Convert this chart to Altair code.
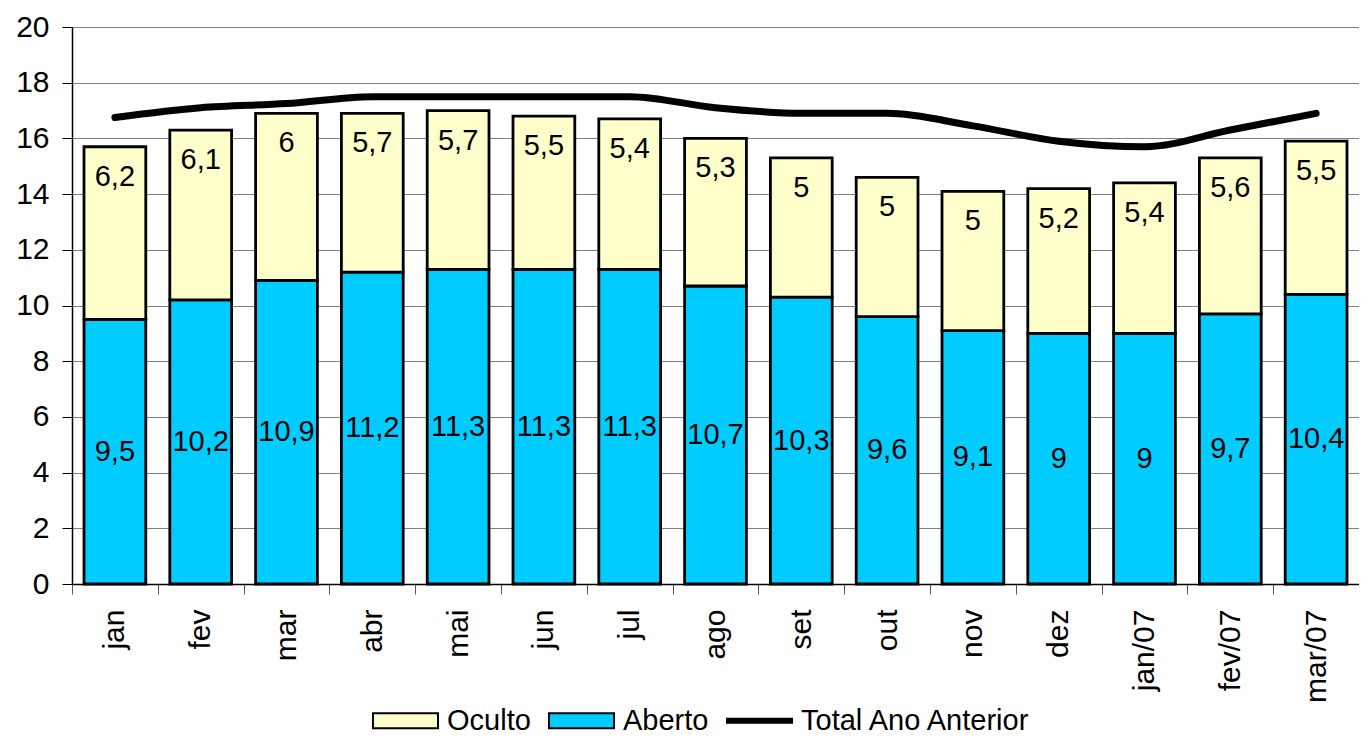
import altair as alt
import pandas as pd

months = ["jan", "fev", "mar", "abr", "mai", "jun", "jul", "ago", "set",
          "out", "nov", "dez", "jan/07", "fev/07", "mar/07"]
aberto = [9.5, 10.2, 10.9, 11.2, 11.3, 11.3, 11.3, 10.7, 10.3, 9.6, 9.1, 9, 9, 9.7, 10.4]
oculto = [6.2, 6.1, 6, 5.7, 5.7, 5.5, 5.4, 5.3, 5, 5, 5, 5.2, 5.4, 5.6, 5.5]
total_ano_anterior = [16.75, 17.1, 17.25, 17.5, 17.5, 17.5, 17.5, 17.1, 16.9,
                      16.9, 16.45, 15.9, 15.7, 16.3, 16.9]
series = ["Oculto", "Aberto", "Total Ano Anterior"]
series_colors = ["#FFFFCC", "#00CCFF", "#000000"]
y_ticks = list(range(0, 21, 2))

FONT = "Liberation Sans"


def fmt(v):
    return f"{v:g}".replace(".", ",")


rows = []
for m, a, o in zip(months, aberto, oculto):
    rows.append(dict(mes=m, serie="Aberto", ini=0.0, fim=a, pos=a / 2, label=fmt(a)))
    rows.append(dict(mes=m, serie="Oculto", ini=a, fim=a + o, pos=a + o, label=fmt(o)))
bars_df = pd.DataFrame(rows)
line_df = pd.DataFrame(dict(mes=months, total=total_ano_anterior))

x_enc = alt.X(
    "mes:N", sort=months, title=None,
    scale=alt.Scale(paddingInner=0, paddingOuter=0),
    axis=alt.Axis(labelAngle=-90, labelAlign="right", labelBaseline="middle",
                  labelFontSize=30, labelColor="black", labelPadding=15,
                  tickBand="extent", tickSize=10, tickColor="#555555", tickWidth=1,
                  domainColor="black", domainWidth=1.5, grid=False, labelFont=FONT),
)
y_scale = alt.Scale(domain=[0, 20], nice=False)
y_axis = alt.Axis(values=y_ticks, title=None, labelFontSize=30, labelColor="black",
                  labelPadding=13, tickSize=10, tickColor="black", domainColor="black",
                  domainWidth=1.5, gridColor="#808080", gridWidth=1.2, labelFont=FONT)

legend = alt.Legend(
    title=None, orient="none", legendX=300, legendY=660, direction="horizontal",
    labelFontSize=29, labelFont=FONT, labelColor="black", labelLimit=0,
    symbolSize=4225, symbolStrokeColor="black", symbolStrokeWidth=2, symbolOpacity=1,
    columnPadding=14, labelOffset=8,
    symbolType={"expr": "datum.value == 'Total Ano Anterior' ? 'M-1,-0.06H1V0.06H-1Z' : 'M-1,-0.23H1V0.23H-1Z'"},
)

bars = alt.Chart(bars_df).mark_bar(
    width=alt.RelativeBandSize(0.72), stroke="black", strokeWidth=2.8
).encode(
    x=x_enc,
    y=alt.Y("ini:Q", scale=y_scale, axis=y_axis),
    y2="fim:Q",
    color=alt.Color("serie:N", scale=alt.Scale(domain=series, range=series_colors), legend=legend),
)

line = alt.Chart(line_df).mark_line(
    color="black", strokeWidth=7, interpolate="monotone", strokeCap="round"
).encode(
    x=alt.X("mes:N", sort=months),
    y=alt.Y("total:Q", scale=y_scale),
)

text_aberto = alt.Chart(bars_df).transform_filter(
    alt.datum.serie == "Aberto"
).mark_text(fontSize=29, font=FONT, color="black", baseline="middle").encode(
    x=alt.X("mes:N", sort=months),
    y=alt.Y("pos:Q", scale=y_scale),
    text="label:N",
)

text_oculto = alt.Chart(bars_df).transform_filter(
    alt.datum.serie == "Oculto"
).mark_text(fontSize=29, font=FONT, color="black", baseline="middle", dy=30).encode(
    x=alt.X("mes:N", sort=months),
    y=alt.Y("pos:Q", scale=y_scale),
    text="label:N",
)

chart = alt.layer(bars, line, text_aberto, text_oculto).properties(
    width=1287, height=557,
    autosize=alt.AutoSizeParams(type="none"),
    padding={"left": 64, "top": 19, "right": 0, "bottom": 151},
).configure_view(strokeWidth=0).configure(font=FONT)

chart.save("out.html", embed_options={"renderer": "svg", "actions": False})
